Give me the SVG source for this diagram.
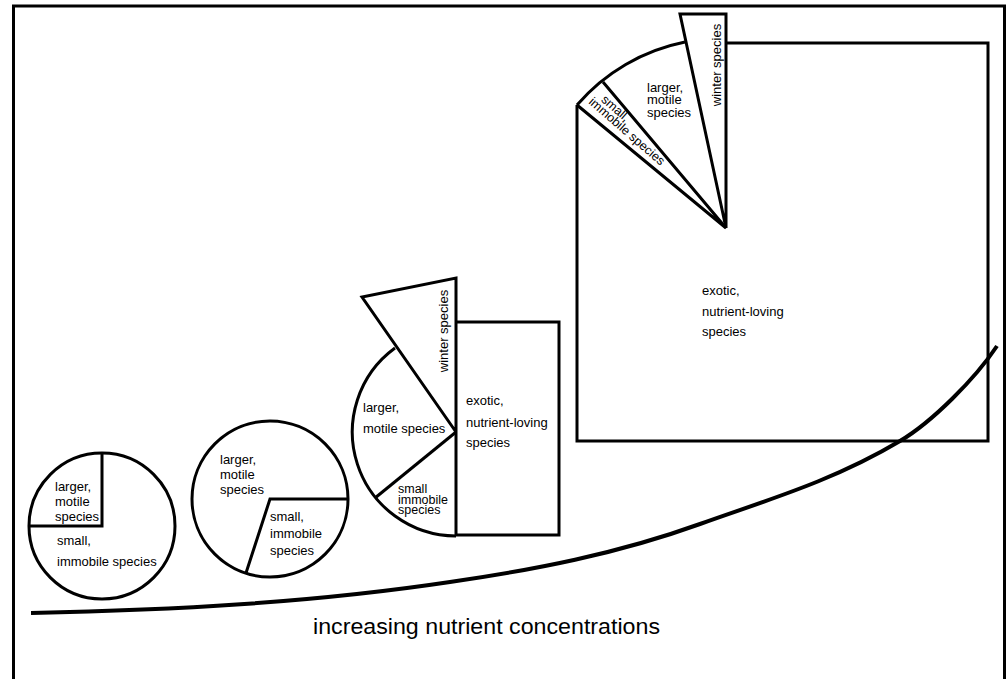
<svg xmlns="http://www.w3.org/2000/svg" width="1007" height="679" viewBox="0 0 1007 679">
<style>
.s{fill:none;stroke:#000;stroke-width:3;stroke-linejoin:miter}
text{font-family:"Liberation Sans",Arial,sans-serif;font-size:13px;fill:#000}
.big{font-size:22px}
.sm{font-size:12.5px}
</style>
<rect x="0" y="0" width="1007" height="679" fill="#fff"/>
<rect class="s" x="13.5" y="6" width="991" height="700"/>
<g id="connectors">
<path d="M31,613 C171,610 310,603 450,582 C533,570 617,554 700,524 C767,500 833,481 900,441 C932,422 975,379 997,346" fill="none" stroke="#000" stroke-width="4"/>
</g>
<g id="circle1">
<circle class="s" cx="102" cy="526" r="73"/>
<path class="s" d="M102,453 L102,526 L29,526"/>
<text x="55" y="491">larger,</text>
<text x="55" y="506">motile</text>
<text x="55" y="521">species</text>
<text x="57" y="545">small,</text>
<text x="57" y="566">immobile species</text>
</g>
<g id="circle2">
<circle class="s" cx="270" cy="499" r="78"/>
<path class="s" d="M348,499 L270,499 L246,573"/>
<text x="220" y="464">larger,</text>
<text x="220" y="479">motile</text>
<text x="220" y="494">species</text>
<text x="270" y="521">small,</text>
<text x="270" y="538">immobile</text>
<text x="270" y="555">species</text>
</g>
<g id="fig3">
<path class="s" d="M456,322 L559,322 L559,535 L456,535"/>
<path class="s" d="M395,348 A104,104 0 0 0 456,536"/>
<path class="s" d="M456,432 L375,498"/>
<path class="s" d="M456,535 L456,278 L362,297 L456,432"/>
<text transform="translate(448,331) rotate(-90)" text-anchor="middle">winter species</text>
<text x="363" y="412">larger,</text>
<text x="363" y="433">motile species</text>
<text x="466" y="405">exotic,</text>
<text x="466" y="427">nutrient-loving</text>
<text x="466" y="447">species</text>
<text class="sm" x="398" y="493">small</text>
<text class="sm" x="398" y="504">immobile</text>
<text class="sm" x="398" y="514">species</text>
</g>
<g id="fig4">
<path class="s" d="M726,43 L988,43 L988,441 L577,441 L577,105"/>
<path class="s" d="M577,105 A192,192 0 0 1 685,42"/>
<path class="s" d="M577,105 L726,228 L603,82"/>
<path class="s" d="M680,14 L726,14 L726,228 Z"/>
<text transform="translate(721,65) rotate(-90)" text-anchor="middle">winter species</text>
<text x="647" y="92">larger,</text>
<text x="647" y="104">motile</text>
<text x="647" y="117">species</text>
<text class="sm" transform="translate(588,103) rotate(41)"><tspan x="8" y="-10">small,</tspan><tspan x="0" y="0">immobile species</tspan></text>
<text x="702" y="295">exotic,</text>
<text x="702" y="316">nutrient-loving</text>
<text x="702" y="336">species</text>
</g>
<g id="label">
<text class="big" x="313" y="634" textLength="347" lengthAdjust="spacingAndGlyphs">increasing nutrient concentrations</text>
</g>
</svg>
